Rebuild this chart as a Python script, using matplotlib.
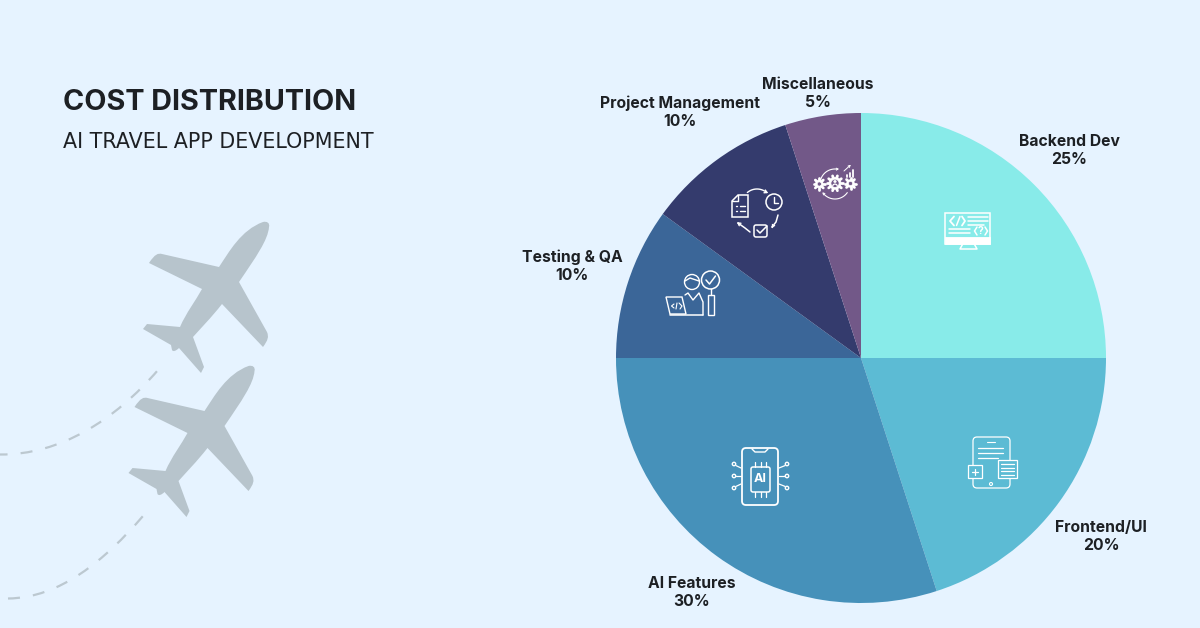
import numpy as np
import matplotlib
matplotlib.use("Agg")
import matplotlib.pyplot as plt
from matplotlib.path import Path
from matplotlib.patches import PathPatch, Circle, Rectangle, FancyBboxPatch, Polygon

categories = ["Backend Dev", "Frontend/UI", "AI Features", "Testing & QA", "Project Management", "Miscellaneous"]
values = [25, 20, 30, 10, 10, 5]
colors = ["#88EBE9", "#5CBBD4", "#4691BA", "#3B6698", "#343B6D", "#725888"]
label_x = [1069, 1101, 692, 572, 680, 818]
label_y = [150.5, 537, 592, 266, 112, 93.5]

BG = "#E6F3FF"
PLANE = "#B7C4CC"
DASH = "#BCC8D0"
INK = "#1D2024"

plt.rcParams["font.family"] = ["Inter", "DejaVu Sans"]

fig = plt.figure(figsize=(12, 6.28), dpi=100, facecolor=BG)
ax = fig.add_axes([0, 0, 1, 1])

# y軸を反転しているのでstartangle=270で上から時計回りになる
ax.pie(values, colors=colors, startangle=270, center=(861, 358), radius=245, frame=False)
ax.set_aspect("auto")
ax.set_xlim(0, 1200)
ax.set_ylim(628, 0)
ax.axis("off")

# タイトル
ax.text(63, 110, "COST DISTRIBUTION", fontsize=20.7, fontweight="bold", color=INK, va="baseline", ha="left")
ax.text(63, 147.5, "AI TRAVEL APP DEVELOPMENT", fontsize=14.9, family=["DejaVu Sans"], color=INK, va="baseline", ha="left")

# ラベル
for name, v, x, y in zip(categories, values, label_x, label_y):
    ax.text(x, y, f"{name}\n{v}%", fontsize=11.3, fontweight="bold", color=INK, ha="center", va="center", linespacing=1.25)


### 飛行機
def plane(dx, dy):
    M, L, C = Path.MOVETO, Path.LINETO, Path.CURVE4
    pts = [
        ((263, 222), M),
        ((267, 221), C), ((270, 223), C), ((269, 227), C),
        ((268, 240), C), ((256, 257), C), ((239, 282), C),
        ((267, 332), L),
        ((269, 337), C), ((268, 340), C), ((263, 347), C),
        ((222, 304), L),
        ((211, 318), C), ((201, 328), C), ((193, 337), C),
        ((204, 367), L),
        ((201, 373), L),
        ((179, 348), L),
        ((176, 351), C), ((173, 352), C), ((172, 350), C),
        ((171, 345), L),
        ((143, 329), L),
        ((147, 324), L),
        ((180, 327), L),
        ((186, 313), C), ((196, 300), C), ((202, 289), C),
        ((149, 263), L),
        ((155, 254), C), ((158, 253), C), ((162, 254), C),
        ((219, 267), L),
        ((229, 252), C), ((241, 230), C), ((263, 222), C),
    ]
    verts = [(p[0] + dx, p[1] + dy) for p, _ in pts]
    codes = [c for _, c in pts]
    ax.add_patch(PathPatch(Path(verts, codes), fc=PLANE, ec="none", zorder=3))


plane(0, 0)
plane(-14.5, 144)

# 点線の軌跡
for p, off in (([(0, 454.5), (60, 455), (115, 420), (158, 370)], 2), ([(8, 598.5), (60, 598), (105, 560), (143, 516)], 0)):
    path = Path(p, [Path.MOVETO, Path.CURVE4, Path.CURVE4, Path.CURVE4])
    ax.add_patch(PathPatch(path, fc="none", ec=DASH, lw=1.6, linestyle=(off, (5.4, 5.9)), zorder=2))


### アイコン用の補助関数
def seg(pts, lw=1.1, c="white"):
    xs, ys = zip(*pts)
    ax.plot(xs, ys, color=c, lw=lw, solid_capstyle="round", solid_joinstyle="round", zorder=5)


def box(x0, y0, x1, y1, fc="none", lw=1.1):
    ax.add_patch(Rectangle((x0, y0), x1 - x0, y1 - y0, fc=fc, ec="white", lw=lw, zorder=5))


def rbox(x0, y0, x1, y1, r=3, lw=1.1, fc="none"):
    ax.add_patch(FancyBboxPatch((x0 + r, y0 + r), x1 - x0 - 2 * r, y1 - y0 - 2 * r, boxstyle=f"round,pad={r}",
                                fc=fc, ec="white", lw=lw, zorder=5))


def circ(x, y, r, fc="none", lw=1.1):
    ax.add_patch(Circle((x, y), r, fc=fc, ec="white", lw=lw, zorder=5))


def arc(x, y, r, a0, a1, lw=1.0):
    t = np.radians(np.linspace(a0, a1, 30))
    seg(list(zip(x + r * np.cos(t), y + r * np.sin(t))), lw=lw)


def head(x, y, ang, size=3, lw=1.0):
    for d in (150, -150):
        t = np.radians(ang + d)
        seg([(x, y), (x + size * np.cos(t), y + size * np.sin(t))], lw=lw)


def gear(x, y, r, teeth, fc, inner=0.55):
    for t in np.linspace(0, 2 * np.pi, teeth, endpoint=False):
        seg([(x + r * np.cos(t), y + r * np.sin(t)), (x + (r + 1.8) * np.cos(t), y + (r + 1.8) * np.sin(t))], lw=2.0)
    circ(x, y, r, fc="white", lw=0.5)
    circ(x, y, r * inner, fc=fc, lw=0.5)


# Backend Dev
box(945, 213, 990, 243.5)
box(945, 236.5, 990, 243.5, fc="white", lw=0.6)
seg([(963, 243.5), (960, 249), (977, 249), (974, 243.5)])
seg([(954, 216.5), (950, 221), (954, 225.5)], lw=1.3)
seg([(956.5, 225.5), (960, 216.5)], lw=1.1)
seg([(962, 216.5), (965, 221), (962, 225.5)], lw=1.3)
for yy, x1 in ((217, 988), (221, 988), (225, 984)):
    seg([(968, yy), (x1, yy)])
for yy, x1 in ((229, 970), (233, 970)):
    seg([(949, yy), (x1, yy)])
seg([(977, 227), (974.5, 231), (977, 235)])
seg([(985, 227), (987.5, 231), (985, 235)])
ax.text(981, 231.5, "?", color="white", fontsize=7.5, fontweight="bold", ha="center", va="center", zorder=5)

# Frontend/UI
rbox(973, 437, 1010, 488, r=4, lw=0.9)
seg([(987, 442), (995, 442)], lw=0.8)
for yy, x1 in ((448, 1003), (453, 1003), (458, 998)):
    seg([(978, yy), (x1, yy)], lw=0.9)
circ(991, 484, 1.5, lw=0.8)
box(968, 465, 982, 478, fc=colors[1], lw=0.9)
seg([(975, 468.5), (975, 474.5)], lw=0.9)
seg([(972, 471.5), (978, 471.5)], lw=0.9)
box(998, 460, 1017, 478, fc=colors[1], lw=0.9)
for yy in (464, 468, 471, 475):
    seg([(1001, yy), (1014, yy)], lw=0.9)

# AI Features
rbox(742, 448, 778, 505, r=4, lw=1.3)
seg([(752, 449), (755, 452), (765, 452), (768, 449)], lw=1.0)
rbox(751, 467, 770, 492, r=2, lw=1.1)
ax.text(760.5, 479.5, "AI", color="white", fontsize=9, fontweight="bold", ha="center", va="center", zorder=5)
for xx in (755, 760.5, 766):
    seg([(xx, 462), (xx, 467)], lw=0.9)
    seg([(xx, 492), (xx, 497)], lw=0.9)
for yy, dy in ((464, 4), (476, 0), (488, -4)):
    circ(734, yy, 1.7, lw=1.0)
    circ(787, yy, 1.7, lw=1.0)
    seg([(736, yy + dy * 0.4), (741, yy + dy)], lw=0.9)
    seg([(785, yy + dy * 0.4), (779, yy + dy)], lw=0.9)

# Testing & QA
circ(692, 282, 7.5, lw=1.0)
seg([(685, 281), (690, 278), (699, 281)], lw=1.0)
circ(710.5, 280, 9, lw=1.1)
seg([(706, 280), (709.5, 284), (715.5, 276)], lw=1.1)
seg([(710.5, 289), (710.5, 295)], lw=1.0)
box(708, 295, 714, 315, lw=1.0)
seg([(685, 295), (688, 293), (693, 300), (699, 293), (703, 302), (703, 315)], lw=1.0)
ax.add_patch(Polygon([(666, 297), (682, 297), (686, 314), (670, 314)], fc=colors[3], ec="white", lw=1.0, zorder=5))
seg([(670, 315), (703, 315)], lw=1.1)
seg([(674, 304), (671.5, 306), (674, 308)], lw=0.8)
seg([(676, 309), (677, 303)], lw=0.8)
seg([(679, 303), (682, 306), (680, 309)], lw=0.8)

# Project Management
ax.add_patch(Polygon([(738, 195), (748, 195), (748, 217), (732, 217), (732, 201)], fc="none", ec="white", lw=1.1, zorder=5))
seg([(738, 195), (738, 201), (732, 201)], lw=1.0)
for yy in (206, 211):
    seg([(736, yy), (737, yy)], lw=1.0)
    seg([(740, yy), (745, yy)], lw=1.0)
circ(774, 202, 8, lw=1.1)
seg([(774, 197), (774, 203), (778, 203)], lw=1.0)
rbox(754, 225, 767, 237, r=2, lw=1.1)
seg([(757, 230), (760, 233), (767, 226)], lw=1.1)
arc(757, 204, 15, -130, -50)
head(767, 192.5, 25)
seg([(778, 215), (776, 222), (772, 227)])
head(772, 227, 120)
seg([(750, 232), (745, 228), (738, 223)])
head(738, 223, 215)

# Miscellaneous
gear(819.3, 184, 3.8, 8, colors[5])
gear(850.5, 183.5, 3.8, 8, colors[5])
gear(835, 183.3, 6, 10, colors[5], inner=0.68)
circ(835, 181.5, 1.3, fc="white", lw=0.3)
arc(835, 186.5, 2.4, 200, 340, lw=0.9)
arc(835, 184, 15, -165, -80, lw=0.8)
head(838, 169, -5, size=2, lw=0.7)
arc(835, 184, 15, 35, 140, lw=0.8)
head(823, 193, 225, size=2, lw=0.7)
seg([(844, 171), (850, 165.5)], lw=0.7)
head(850, 165.5, -45, size=2, lw=0.7)
for xx, y0 in ((847, 175), (850, 172.5), (853, 170)):
    seg([(xx, y0), (xx, 177)], lw=1.3)

fig.savefig("out.png", dpi=100, facecolor=BG)
